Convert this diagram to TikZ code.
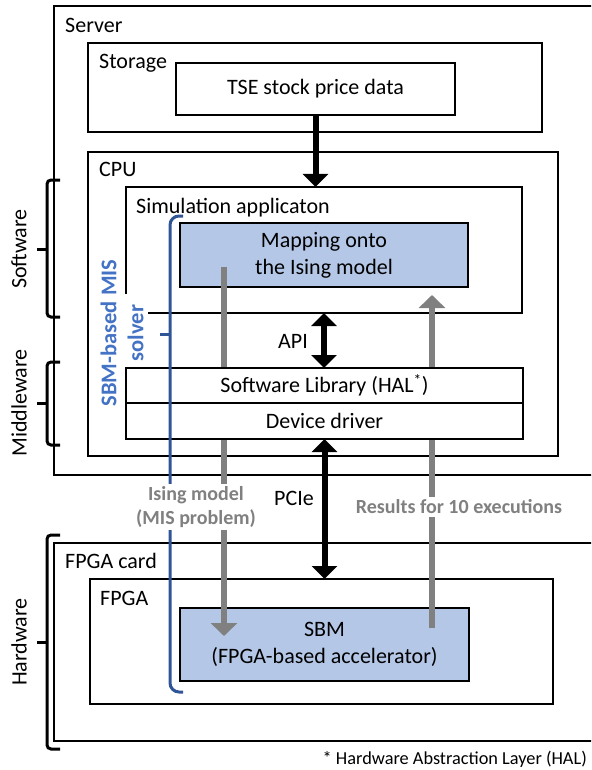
\documentclass[tikz,border=0pt]{standalone}
\usepackage{fontspec}
\setmainfont{Carlito}
\usetikzlibrary{arrows.meta,calc}
\definecolor{boxblue}{HTML}{B4C7E7}
\definecolor{solverblue}{HTML}{2F5597}
\definecolor{solvertext}{HTML}{4472C4}
\definecolor{flowgray}{HTML}{808080}
\tikzset{
  frame/.style={draw, line width=2pt, inner sep=0pt, outer sep=0pt},
  shaded/.style={frame, fill=boxblue},
  lbl/.style={inner sep=0pt, font=\fontsize{22}{27}\selectfont},
  sidelbl/.style={lbl, rotate=90},
  graylbl/.style={fill=white, text=flowgray, inner xsep=2pt, inner ysep=2pt,
    font=\fontsize{20}{24}\selectfont\bfseries, align=center},
  blackarrow/.style={line width=6pt, -{Triangle[width=25pt,length=13pt]}},
  blackdouble/.style={line width=6pt, {Triangle[width=25pt,length=13pt]}-{Triangle[width=25pt,length=13pt]}},
  grayarrow/.style={draw=flowgray, line width=6.5pt, -{Triangle[width=26pt,length=13pt]}},
  brace/.style={line width=3pt, rounded corners=4pt},
  solverline/.style={draw=solverblue, line width=3pt, rounded corners=9pt},
}
\begin{document}
\begin{tikzpicture}[x=1pt, y=-1pt]
\useasboundingbox (0,0) rectangle (591,770);
\clip (0,0) rectangle (591,770);

% ---- server side ----
\node[frame, minimum width=546pt, minimum height=469pt] (server) at (327,240.5) {};
\node[lbl, anchor=base west] (serverlbl) at (65,33) {Server};

\node[frame, minimum width=454pt, minimum height=89pt] (storage) at (315,87.5) {};
\node[lbl, anchor=base west] (storagelbl) at (99,69) {Storage};
\node[frame, minimum width=279pt, minimum height=52pt, font=\fontsize{22}{27}\selectfont] (tse) at (315.5,89) {TSE stock price data};

\node[frame, minimum width=470pt, minimum height=304pt] (cpu) at (323,304) {};
\node[lbl, anchor=base west] (cpulbl) at (99,176) {CPU};

% simulation application: outline left open at the lower left corner
\node[minimum width=396pt, minimum height=126pt, inner sep=0pt, outer sep=0pt] (sim) at (324,250) {};
\draw[line width=2pt] ($(sim.south west)+(0,-19)$) |- (sim.north east) |- ($(sim.south west)+(22,0)$);
\node[lbl, anchor=base west] (simlbl) at (136,213) {Simulation applicaton};
\node[shaded, minimum width=288pt, minimum height=64pt, align=center,
      font=\fontsize{22}{27}\selectfont] (map) at (324,255) {Mapping onto\\the Ising model};

% ---- FPGA card ----
\node[frame, minimum width=546pt, minimum height=198pt] (card) at (327,642) {};
\node[lbl, anchor=base west] (cardlbl) at (65,568) {FPGA card};
\node[frame, minimum width=463pt, minimum height=125pt] (fpga) at (321.5,641.5) {};
\node[lbl, anchor=base west] (fpgalbl) at (100,605) {FPGA};
\node[shaded, minimum width=289pt, minimum height=73pt, align=center,
      font=\fontsize{22}{27}\selectfont] (sbm) at (324.5,644.5) {SBM\\(FPGA-based accelerator)};

% ---- data flow (runs behind the library / driver layer) ----
\coordinate (isingsrc) at (224,267);
\coordinate (isingdst) at (224,636);
\draw[grayarrow] (isingsrc) -- (isingdst);
\coordinate (ressrc) at (432,628);
\coordinate (resdst) at (432,295);
\draw[grayarrow] (ressrc) -- (resdst);

\node[frame, fill=white, minimum width=397pt, minimum height=35pt, font=\fontsize{22}{27}\selectfont] (hal) at (324.5,385.5) {Software Library (HAL\textsuperscript{*})};
\node[frame, fill=white, minimum width=397pt, minimum height=36pt, font=\fontsize{22}{27}\selectfont] (drv) at (324.5,421) {Device driver};

% ---- layer braces ----
\draw[brace] (60,180) -| (47,317) -- (60,317);
\draw[brace] (37,249) -- (47,249);
\node[sidelbl] (swlbl) at (19,249) {Software};
\draw[brace] (60,362) -| (47,445) -- (60,445);
\draw[brace] (37,403) -- (47,403);
\node[sidelbl] (mwlbl) at (19,403) {Middleware};
\draw[brace] (60,535) -| (47,749) -- (60,749);
\draw[brace] (37,642) -- (47,642);
\node[sidelbl] (hwlbl) at (19,642) {Hardware};

% ---- solver bracket ----
\draw[solverline] (183,216) -| (170,692) -- (183,692);
\draw[draw=solverblue, line width=3pt] (160,334) -- (170,334);
\node[rotate=90, align=center, text=solvertext, inner sep=0pt,
      font=\fontsize{22.5}{27}\selectfont\bfseries] (solverlbl) at (122,333) {SBM-based MIS\\solver};

% ---- interfaces ----
\draw[blackarrow] (tse.south) -- (tse.south |- sim.north);
\draw[blackdouble] (sim.south) -- (sim.south |- hal.north);
\draw[blackdouble] (drv.south) -- (drv.south |- fpga.north);

\node[lbl] (apilbl) at (293,341) {API};
\node[lbl] (pcielbl) at (294,498) {PCIe};
\node[graylbl] (isinglbl) at (196,507) {Ising model\\(MIS problem)};
\node[graylbl, inner ysep=3pt] (reslbl) at (459,507) {Results for 10 executions};

% ---- footnote ----
\node[inner sep=0pt, anchor=base east, font=\fontsize{18.3}{22}\selectfont] (note) at (587,764) {* Hardware Abstraction Layer (HAL)};
\end{tikzpicture}
\end{document}
